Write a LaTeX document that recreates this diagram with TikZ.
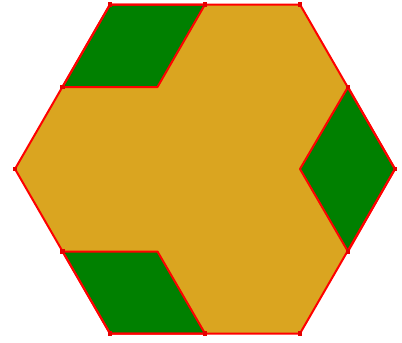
\documentclass[tikz,border=0pt]{standalone}
\begin{document}
\begin{tikzpicture}[x=1pt,y=-1pt,
  edge/.style={draw={rgb,255:red,255;green,0;blue,0},line width=2pt,line join=round},
  goldfill/.style={fill={rgb,255:red,218;green,165;blue,32}},
  greenfill/.style={fill={rgb,255:red,0;green,128;blue,0}},
  vdot/.style={fill={rgb,255:red,230;green,0;blue,0},inner sep=0pt,minimum size=4.5pt,draw=none,rectangle}]
\useasboundingbox (0,0) rectangle (402,343);
% vertices
\coordinate (A) at (15,169);
\coordinate (B) at (110,4.5);
\coordinate (C) at (205,4.5);
\coordinate (D) at (300,4.5);
\coordinate (E) at (348,87);
\coordinate (F) at (395,169);
\coordinate (G) at (348,251.5);
\coordinate (H) at (300,333.5);
\coordinate (I) at (205,333.5);
\coordinate (J) at (110,333.5);
\coordinate (K) at (62.5,251.5);
\coordinate (L) at (62.5,87);
\coordinate (M) at (157.5,87);
\coordinate (N) at (300,169);
\coordinate (P) at (157.5,251.5);
% gold hexagon
\path[goldfill] (A) -- (B) -- (D) -- (F) -- (H) -- (J) -- cycle;
% green rhombi
\path[greenfill,edge] (B) -- (C) -- (M) -- (L) -- cycle;
\path[greenfill,edge] (E) -- (F) -- (G) -- (N) -- cycle;
\path[greenfill,edge] (K) -- (P) -- (I) -- (J) -- cycle;
% outline
\path[edge] (A) -- (B) -- (D) -- (F) -- (H) -- (J) -- cycle;
% dots
\foreach \p in {A,B,C,D,E,F,G,H,I,J,K,L}{\node[vdot] (dot\p) at (\p) {};}
\end{tikzpicture}
\end{document}
